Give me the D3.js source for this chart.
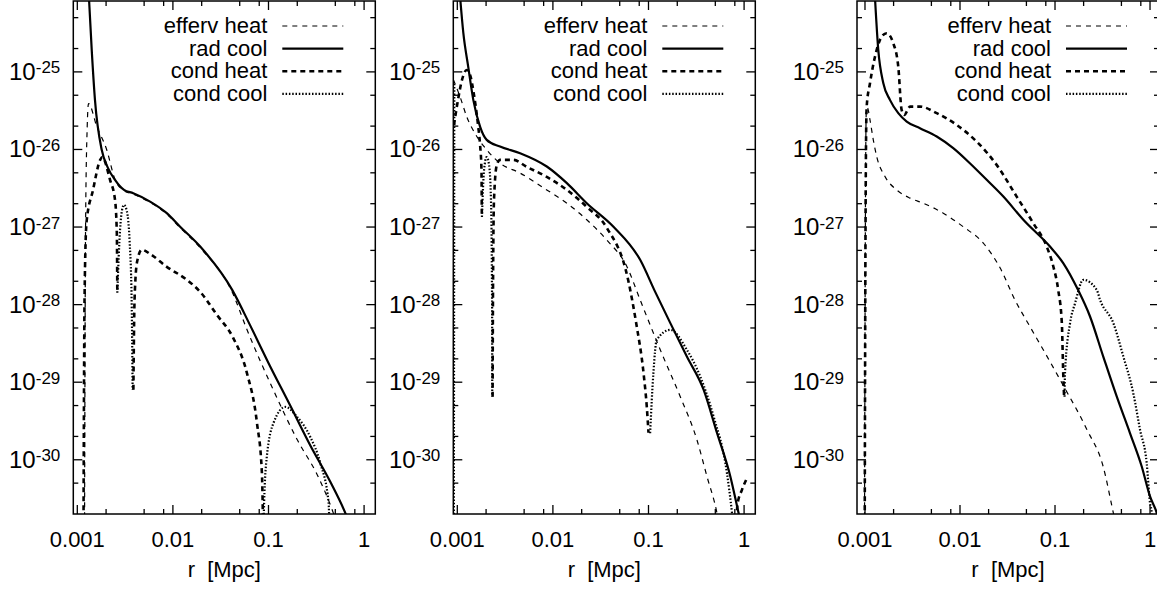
<!DOCTYPE html>
<html>
<head>
<meta charset="utf-8">
<script src="https://cdn.jsdelivr.net/npm/d3@7/dist/d3.min.js"></script>
<style>
body { margin: 0; background: #fff; }
svg { display: block; font-family: "Liberation Sans", Arial, Helvetica, sans-serif; }
.frame { fill: none; stroke: #000; stroke-width: 1.5; }
.tick { stroke: #000; stroke-width: 1.3; }
.curve { fill: none; stroke: #000; stroke-linejoin: round; }
.efferv { stroke-width: 1.2; stroke-dasharray: 5,5; }
.rad { stroke-width: 2.2; }
.condheat { stroke-width: 2.6; stroke-dasharray: 5,4; }
.condcool { stroke-width: 2.2; stroke-dasharray: 1.5,1.8; }
</style>
</head>
<body>
<div class="container"></div>
<script>
// --- values: [r in Mpc, rate] ---
var seriesNames = ['efferv heat', 'rad cool', 'cond heat', 'cond cool'];
var xTicks = [0.001, 0.01, 0.1, 1];
var xTickLabels = ['0.001', '0.01', '0.1', '1'];
var yExponents = [-25, -26, -27, -28, -29, -30];

// panel 1
var p1Efferv = [[[1.19e-3,1e-31],[1.22e-3,1e-27],[1.27e-3,2e-26],[1.31e-3,3.9e-26],[1.60e-3,1.97e-26],[2.03e-3,9.9e-27],[2.48e-3,4.1e-27],[3.08e-3,2.95e-27],[3.85e-3,2.65e-27],[5.77e-3,2.08e-27],[8.63e-3,1.47e-27],[1.19e-2,9.8e-28],[1.93e-2,5.4e-28],[4.17e-2,1.45e-28],[5.98e-2,4.7e-29],[0.112,8e-30],[0.2,1.81e-30],[0.33,6.1e-31],[0.476,2.07e-31],[0.52,1.5e-31]]];
var p1RadCool = [[[1.31e-3,1.15e-24],[1.415e-3,1.92e-25],[1.53e-3,4.36e-26],[1.80e-3,9.9e-27],[2.09e-3,5.8e-27],[2.48e-3,4.06e-27],[3.08e-3,3.01e-27],[3.85e-3,2.73e-27],[5.77e-3,2.13e-27],[8.63e-3,1.51e-27],[1.19e-2,1.01e-27],[1.93e-2,5.6e-28],[4.17e-2,1.55e-28],[6.43e-2,5.4e-29],[9.93e-2,1.8e-29],[0.1687,5.0e-30],[0.273,1.54e-30],[0.443,5.2e-31],[0.635,2.07e-31],[0.72,1.4e-31]]];
var p1CondHeat = [
  [[1.16e-3,1e-31],[1.19e-3,1.15e-28],[1.25e-3,1.17e-27],[1.46e-3,3.0e-27],[1.73e-3,7.3e-27],[1.82e-3,8.0e-27],[2.2e-3,4.06e-27],[2.48e-3,2.24e-27],[2.59e-3,8.4e-28],[2.62e-3,1.42e-28]],
  [[3.86e-3,8.0e-30],[3.97e-3,1.15e-28],[4.22e-3,3.56e-28],[4.72e-3,5.1e-28],[5.77e-3,4.5e-28],[8.63e-3,3.07e-28],[1.40e-2,2.09e-28],[1.93e-2,1.46e-28],[2.88e-2,7.4e-29],[4.27e-2,3.73e-29],[5.94e-2,1.32e-29],[7.57e-2,3.0e-30],[8.53e-2,6.8e-31],[8.81e-2,1e-31]]
];
var p1CondCool = [
  [[2.62e-3,1.42e-28],[2.80e-3,9.2e-28],[2.94e-3,1.67e-27],[3.08e-3,1.93e-27],[3.31e-3,1.57e-27],[3.52e-3,6.8e-28],[3.70e-3,1.15e-28],[3.79e-3,8.0e-30]],
  [[8.81e-2,1e-31],[9.0e-2,2.8e-31],[9.6e-2,1.09e-30],[0.113,3.0e-30],[0.150,4.8e-30],[0.198,3.6e-30],[0.273,1.98e-30],[0.348,9.1e-31],[0.425,2.8e-31],[0.437,1e-31]]
];

// panel 2
var p2Efferv = [[[9.1e-4,7.9e-26],[1.067e-3,4.8e-26],[1.254e-3,2.65e-26],[1.60e-3,1.47e-26],[2.03e-3,9.9e-27],[2.8e-3,6.65e-27],[4.54e-3,4.96e-27],[8.63e-3,3.01e-27],[1.40e-2,2.03e-27],[2.26e-2,1.24e-27],[3.66e-2,6.8e-28],[5.94e-2,3.1e-28],[8.18e-2,1.15e-28],[0.1327,2.62e-29],[0.215,6.5e-30],[0.321,1.81e-30],[0.409,6.1e-31],[0.52,2.07e-31],[0.55,1.45e-31]]];
var p2RadCool = [[[1.054e-3,1.15e-24],[1.156e-3,3.18e-25],[1.30e-3,1.17e-25],[1.47e-3,4.36e-26],[1.73e-3,1.97e-26],[2.03e-3,1.33e-26],[2.8e-3,1.09e-26],[4.54e-3,8.95e-27],[8.63e-3,6.03e-27],[1.40e-2,3.68e-27],[2.26e-2,2.03e-27],[4.3e-2,1.01e-27],[8.18e-2,3.78e-28],[0.1175,1.46e-28],[0.1687,5.82e-29],[0.252,2.14e-29],[0.377,8.0e-30],[0.52,2.23e-30],[0.718,6.1e-31],[0.875,2.07e-31],[0.935,1.45e-31]]];
var p2CondHeat = [
  [[9.23e-4,2.07e-26],[1.017e-3,4.36e-26],[1.12e-3,7.9e-26],[1.254e-3,1.06e-25],[1.36e-3,9.15e-26],[1.495e-3,5.06e-26],[1.647e-3,2.07e-26],[1.73e-3,1.15e-26],[1.79e-3,5.46e-27],[1.805e-3,1.35e-27]],
  [[2.34e-3,6.5e-30],[2.36e-3,1.15e-28],[2.42e-3,2.24e-27],[2.59e-3,6.33e-27],[2.8e-3,7.35e-27],[3.86e-3,7.35e-27],[5.33e-3,5.97e-27],[8.63e-3,4.43e-27],[1.40e-2,3.01e-27],[2.26e-2,1.82e-27],[3.66e-2,9.8e-28],[6.12e-2,2.09e-28],[7.43e-2,5.8e-29],[8.87e-2,1.32e-29],[9.6e-2,4.8e-30],[0.1,2.23e-30]],
  [[0.83,1e-31],[0.85,2.6e-31],[0.95,4.1e-31],[1.05,5.5e-31]]
];
var p2CondCool = [
  [[9.2e-4,1e-31],[9.25e-4,1e-28],[9.3e-4,7.0e-26]],
  [[1.81e-3,1.35e-27],[1.905e-3,5.46e-27],[2.03e-3,8.0e-27],[2.15e-3,6.3e-27],[2.25e-3,2.24e-27],[2.31e-3,1.15e-28],[2.32e-3,6.5e-30]],
  [[0.104,2.2e-30],[0.1125,1.31e-29],[0.1218,3.5e-29],[0.1687,4.73e-29],[0.252,2.62e-29],[0.348,1.18e-29],[0.48,3.6e-30],[0.662,6.7e-31],[0.747,2.07e-31],[0.77,1.45e-31]]
];

// panel 3
var p3Efferv = [[[9.88e-4,1e-31],[1.012e-3,2.24e-27],[1.032e-3,3.05e-26],[1.062e-3,3.43e-26],[1.129e-3,2.4e-26],[1.223e-3,1.33e-26],[1.328e-3,8.1e-27],[1.624e-3,4.48e-27],[2.157e-3,3.01e-27],[2.98e-3,2.36e-27],[4.11e-3,2.03e-27],[6.67e-3,1.51e-27],[1.08e-2,1.01e-27],[1.76e-2,6.2e-28],[2.64e-2,2.98e-28],[3.79e-2,1.15e-28],[5.46e-2,5.18e-29],[7.85e-2,2.39e-29],[0.1213,9.2e-30],[0.217,2.44e-30],[0.322,8.1e-31],[0.411,2.07e-31],[0.438,1.45e-31]]];
var p3RadCool = [[[1.26e-3,1.15e-24],[1.38e-3,1.92e-25],[1.56e-3,7.15e-26],[1.83e-3,4.36e-26],[2.24e-3,2.94e-26],[2.75e-3,2.29e-26],[3.79e-3,1.88e-26],[5.69e-3,1.47e-26],[8.49e-3,1.04e-26],[1.27e-2,6.65e-27],[1.91e-2,4.06e-27],[2.86e-2,2.47e-27],[4.64e-2,1.24e-27],[8.85e-2,5.6e-28],[0.122,3.43e-28],[0.1746,1.55e-28],[0.2336,7.03e-29],[0.322,2.14e-29],[0.446,6.55e-30],[0.615,2.21e-30],[0.818,8.2e-31],[1.0,3.37e-31],[1.176,2.07e-31],[1.27,1.45e-31]]];
var p3CondHeat = [[[9.93e-4,1e-31],[1.007e-3,1.15e-28],[1.024e-3,9.9e-27],[1.042e-3,3.57e-26],[1.129e-3,7.15e-26],[1.328e-3,1.92e-25],[1.499e-3,2.85e-25],[1.692e-3,3.15e-25],[1.985e-3,2.34e-25],[2.24e-3,1.17e-25],[2.43e-3,3.24e-26],[2.59e-3,2.79e-26],[2.98e-3,3.57e-26],[3.79e-3,3.57e-26],[5.69e-3,2.94e-26],[9.23e-3,2.07e-26],[1.50e-2,1.26e-26],[2.43e-2,6.33e-27],[3.95e-2,2.47e-27],[5.91e-2,1.12e-27],[8.18e-2,5.6e-28],[9.6e-2,3.1e-28],[0.108,1.55e-28],[0.118,5.78e-29],[0.122,1.31e-29],[0.1245,6.55e-30]]];
var p3CondCool = [[[0.126,6.5e-30],[0.1274,1.32e-29],[0.144,5.78e-29],[0.1626,1.04e-28],[0.1986,2.09e-28],[0.275,1.55e-28],[0.298,1.15e-28],[0.411,5.78e-29],[0.524,2.14e-29],[0.667,7.2e-30],[0.785,2.44e-30],[0.922,9.1e-31],[1.0,2.77e-31],[1.042,2.07e-31],[1.06,1.45e-31]]];

var p1XDomain = [9.08e-4, 1.31];
var p2XDomain = [9.08e-4, 1.31];
var p3XDomain = [8.24e-4, 1.243];
var yDomain = [2.0e-31, 8.2e-25];

// --- layout ---
const WIDTH = 1157;
const HEIGHT = 593;
const PLOT_TOP = 1;
const PLOT_W = 302;
const PLOT_H = 513;
const TICK_MAJOR = 9;
const TICK_MINOR = 5;

var translate = function(x, y){
	return 'translate(' + x + ',' + y + ')';
};

var styles = ['efferv', 'rad', 'condheat', 'condcool'];

// minor tick values (m * 10^e) that fall inside a domain
var minorTicks = function(domain, mults){
	var out = [];
	for (var e = -32; e <= 1; e++) {
		mults.forEach(function(m){
			var v = m * Math.pow(10, e);
			if (v > domain[0] * 1.01 && v < domain[1]) out.push(v);
		});
	}
	return out;
};

var svg = d3.select('.container').append('svg')
	.attr('width', WIDTH)
	.attr('height', HEIGHT);

var drawPanel = function(idx, left, xDomain, series){
	var xScale = d3.scaleLog().domain(xDomain).range([0, PLOT_W]);
	var yScale = d3.scaleLog().domain(yDomain).range([PLOT_H, 0]);

	var g = svg.append('g').attr('transform', translate(left, PLOT_TOP));

	g.append('clipPath').attr('id', 'clip' + idx)
		.append('rect').attr('width', PLOT_W).attr('height', PLOT_H);

	var line = d3.line()
		.x(function(d){ return xScale(d[0]); })
		.y(function(d){ return yScale(d[1]); })
		.curve(d3.curveMonotoneX);

	var curves = g.append('g').attr('clip-path', 'url(#clip' + idx + ')');
	series.forEach(function(branches, i){
		curves.selectAll('path.s' + i).data(branches)
			.enter().append('path')
			.attr('class', 'curve s' + i + ' ' + styles[i])
			.attr('d', line);
	});

	// ticks on all four sides, pointing inward
	var xMajor = xTicks.filter(function(v){ return v >= xDomain[0] && v <= xDomain[1]; });
	var xMinor = minorTicks(xDomain, [2, 5, 8]);
	var yMajor = yExponents.map(function(e){ return Math.pow(10, e); });
	var yMinor = minorTicks(yDomain, [2, 5]);

	var ticks = g.append('g');
	var xt = xMajor.map(function(v){ return [v, TICK_MAJOR]; })
		.concat(xMinor.map(function(v){ return [v, TICK_MINOR]; }));
	ticks.selectAll('line.xb').data(xt).enter().append('line')
		.attr('class', 'tick xb')
		.attr('x1', function(d){ return xScale(d[0]); })
		.attr('x2', function(d){ return xScale(d[0]); })
		.attr('y1', PLOT_H).attr('y2', function(d){ return PLOT_H - d[1]; });
	ticks.selectAll('line.xt').data(xt).enter().append('line')
		.attr('class', 'tick xt')
		.attr('x1', function(d){ return xScale(d[0]); })
		.attr('x2', function(d){ return xScale(d[0]); })
		.attr('y1', 0).attr('y2', function(d){ return d[1]; });

	var yt = yMajor.map(function(v){ return [v, TICK_MAJOR]; })
		.concat(yMinor.map(function(v){ return [v, TICK_MINOR]; }));
	ticks.selectAll('line.yl').data(yt).enter().append('line')
		.attr('class', 'tick yl')
		.attr('y1', function(d){ return yScale(d[0]); })
		.attr('y2', function(d){ return yScale(d[0]); })
		.attr('x1', 0).attr('x2', function(d){ return d[1]; });
	ticks.selectAll('line.yr').data(yt).enter().append('line')
		.attr('class', 'tick yr')
		.attr('y1', function(d){ return yScale(d[0]); })
		.attr('y2', function(d){ return yScale(d[0]); })
		.attr('x1', PLOT_W).attr('x2', function(d){ return PLOT_W - d[1]; });

	g.append('rect').attr('class', 'frame')
		.attr('width', PLOT_W).attr('height', PLOT_H);

	// x tick labels
	g.selectAll('text.xl').data(xTicks).enter().append('text')
		.attr('class', 'xl')
		.attr('x', function(d){ return xScale(d); })
		.attr('y', 546)
		.attr('text-anchor', 'middle')
		.style('font-size', '22px')
		.text(function(d, i){ return xTickLabels[i]; });

	// y tick labels: 10 with superscript exponent
	var yl = g.selectAll('text.yl').data(yExponents).enter().append('text')
		.attr('class', 'yl')
		.attr('x', -13)
		.attr('y', function(e){ return yScale(Math.pow(10, e)) + 8; })
		.attr('text-anchor', 'end');
	yl.append('tspan').style('font-size', '24px').text('10');
	yl.append('tspan').attr('dy', -6.5).style('font-size', '17px')
		.text(function(e){ return String(e); });

	g.append('text')
		.attr('x', PLOT_W / 2)
		.attr('y', 576)
		.attr('text-anchor', 'middle')
		.style('font-size', '22px')
		.style('white-space', 'pre')
		.text('r  [Mpc]');

	// legend
	var lg = g.append('g');
	seriesNames.forEach(function(name, i){
		var y = 25 + i * 22.6;
		lg.append('text')
			.attr('x', PLOT_W - 108)
			.attr('y', y + 7)
			.attr('text-anchor', 'end')
			.style('font-size', '22px')
			.text(name);
		lg.append('line')
			.attr('class', 'curve ' + styles[i])
			.attr('x1', PLOT_W - 93).attr('x2', PLOT_W - 32)
			.attr('y1', y).attr('y2', y);
	});
};

drawPanel(1, 73.3, p1XDomain, [p1Efferv, p1RadCool, p1CondHeat, p1CondCool]);
drawPanel(2, 453.3, p2XDomain, [p2Efferv, p2RadCool, p2CondHeat, p2CondCool]);
drawPanel(3, 857, p3XDomain, [p3Efferv, p3RadCool, p3CondHeat, p3CondCool]);
</script>
</body>
</html>
